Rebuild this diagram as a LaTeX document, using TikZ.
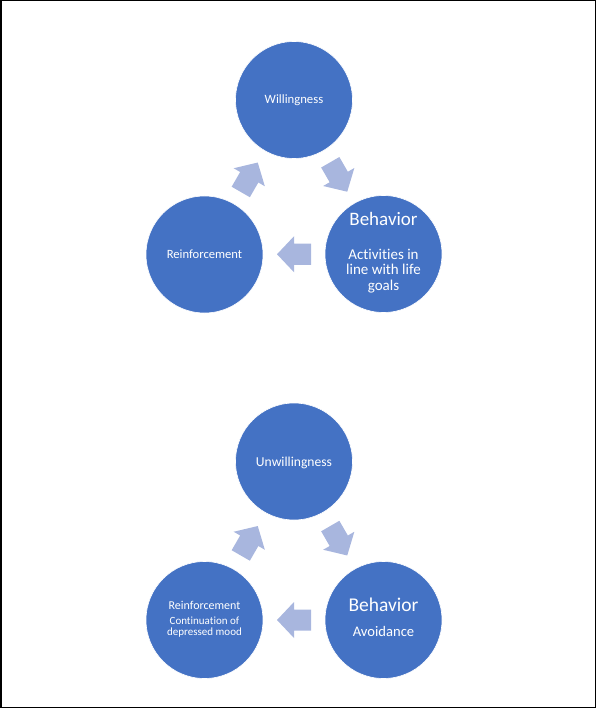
\documentclass[tikz,border=0pt]{standalone}
\usepackage{fontspec}
\setmainfont[RawFeature={-liga}]{Carlito}
\usetikzlibrary{calc}
\definecolor{circblue}{RGB}{68,114,196}
\definecolor{arrowblue}{RGB}{168,182,222}
\tikzset{
  bubble/.style={circle, fill=circblue, draw=white, line width=0.6pt, minimum size=117pt, inner sep=0pt},
  txt/.style={text=white, inner sep=0pt, anchor=base},
  blockarrow/.style={fill=arrowblue},
}
\newcommand{\blockarr}[3]{% from, to, angle
  \begin{scope}[shift={($(#1)!0.5!(#2)$)}, rotate=#3]
    \fill[blockarrow] (-17,-10.5) -- (0,-10.5) -- (0,-18) -- (17,0) -- (0,18) -- (0,10.5) -- (-17,10.5) -- cycle;
  \end{scope}}
\begin{document}
\begin{tikzpicture}[x=1pt,y=-1pt]
\useasboundingbox (0,0) rectangle (596,708);
\draw[line width=1.5pt] (0.75,0.75) rectangle (595.25,707.25);
% top cycle
\node[bubble] (will) at (294,100) {};
\node[bubble] (reinf) at (204.5,254.5) {};
\node[bubble] (beh) at (383.5,254) {};
\node[txt, font=\fontsize{12.7}{15}\selectfont] (willT) at ($(will)+(0,4)$) {Willingness};
\node[txt, font=\fontsize{12.6}{15}\selectfont] (reinfT) at ($(reinf)+(0,4)$) {Reinforcement};
\node[txt, font=\fontsize{19}{23}\selectfont] (behT) at ($(beh)+(0,-28)$) {Behavior};
\node[txt, font=\fontsize{15}{16}\selectfont] (behA) at ($(beh)+(0,5)$) {Activities in};
\node[txt, font=\fontsize{15}{16}\selectfont] (behB) at ($(beh)+(0,20.5)$) {line with life};
\node[txt, font=\fontsize{15}{16}\selectfont] (behC) at ($(beh)+(0,36)$) {goals};
\blockarr{will}{beh}{-60}
\blockarr{beh}{reinf}{180}
\blockarr{reinf}{will}{60}
% bottom cycle
\node[bubble] (unwill) at (294,461.5) {};
\node[bubble] (reinf2) at (204.5,620) {};
\node[bubble] (beh2) at (383.5,620) {};
\node[txt, font=\fontsize{13.6}{16}\selectfont] (unwillT) at ($(unwill)+(0,4.5)$) {Unwillingness};
\node[txt, font=\fontsize{12}{14}\selectfont] (reinf2T) at ($(reinf2)+(0,-11)$) {Reinforcement};
\node[txt, font=\fontsize{11}{12}\selectfont] (reinf2A) at ($(reinf2)+(0,4.5)$) {Continuation of};
\node[txt, font=\fontsize{11}{12}\selectfont] (reinf2B) at ($(reinf2)+(0,15.5)$) {depressed mood};
\node[txt, font=\fontsize{19.5}{23}\selectfont] (beh2T) at ($(beh2)+(0,-9)$) {Behavior};
\node[txt, font=\fontsize{14.6}{17}\selectfont] (beh2A) at ($(beh2)+(0,16.5)$) {Avoidance};
\blockarr{unwill}{beh2}{-60}
\blockarr{beh2}{reinf2}{180}
\blockarr{reinf2}{unwill}{60}
\end{tikzpicture}
\end{document}
